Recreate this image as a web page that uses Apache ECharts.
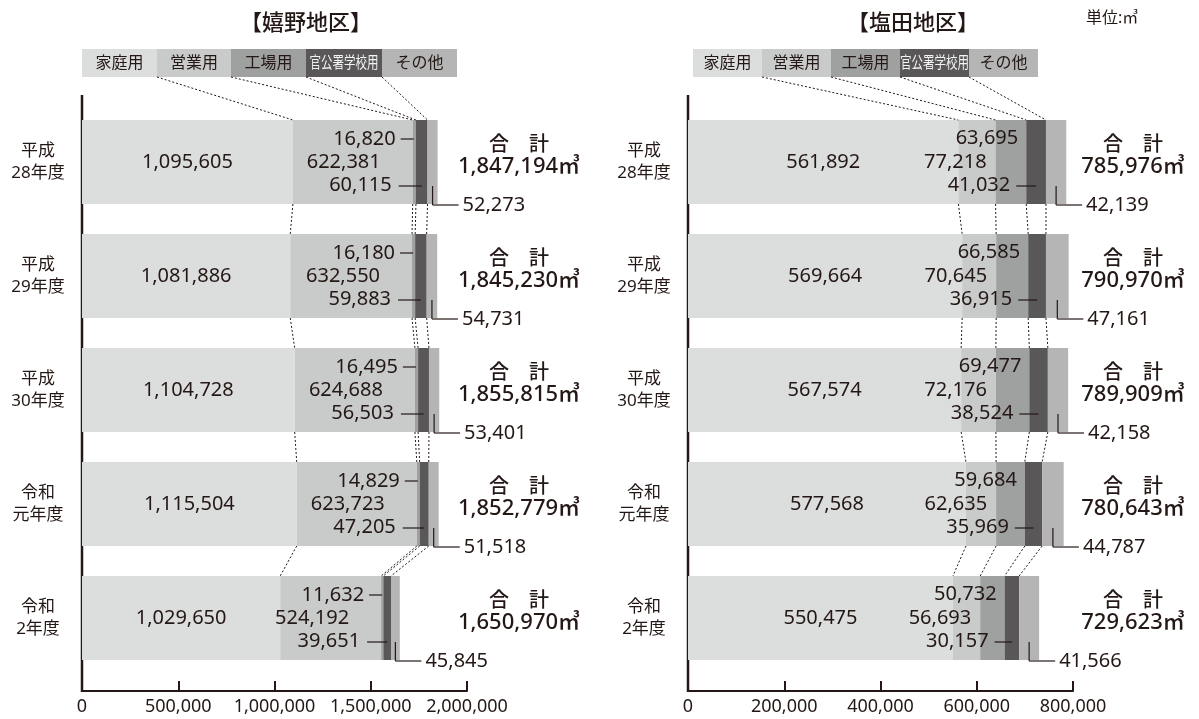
<!DOCTYPE html>
<html><head><meta charset="utf-8">
<script src="https://cdn.jsdelivr.net/npm/echarts@6/dist/echarts.min.js"></script>
<style>html,body{margin:0;padding:0;background:#fff}#c{width:1199px;height:719px}</style>
</head><body><div id="c"></div>
<script>
// ---- data ----
const categories = ['平成28年度', '平成29年度', '平成30年度', '令和元年度', '令和2年度'];
const seriesNames = ['家庭用', '営業用', '工場用', '官公署学校用', 'その他'];

const ureshinoHome    = [1095605, 1081886, 1104728, 1115504, 1029650];
const ureshinoBiz     = [622381, 632550, 624688, 623723, 524192];
const ureshinoFactory = [16820, 16180, 16495, 14829, 11632];
const ureshinoPublic  = [60115, 59883, 56503, 47205, 39651];
const ureshinoOther   = [52273, 54731, 53401, 51518, 45845];
const ureshinoTotal   = [1847194, 1845230, 1855815, 1852779, 1650970];

const shiotaHome    = [561892, 569664, 567574, 577568, 550475];
const shiotaBiz     = [77218, 70645, 72176, 62635, 56693];
const shiotaFactory = [63695, 66585, 69477, 59684, 50732];
const shiotaPublic  = [41032, 36915, 38524, 35969, 30157];
const shiotaOther   = [42139, 47161, 42158, 44787, 41566];
const shiotaTotal   = [785976, 790970, 789909, 780643, 729623];

const ureshinoTicks = [0, 500000, 1000000, 1500000, 2000000];
const shiotaTicks   = [0, 200000, 400000, 600000, 800000];

// ---- style / layout ----
const FONT = "'Noto Sans', 'Noto Sans CJK JP', sans-serif";
const INK = '#231815';
const colors = ['#dcdddd', '#c9caca', '#9fa0a0', '#595757', '#b5b5b6'];
const fmt = v => Number(v).toLocaleString('en-US');
const GRID_TOP = 105, GRID_H = 570, GRID_W = 385, BAR_W = 84;
const LEGEND_TOP = 49, LEGEND_H = 28;

const panels = [
  { key: 'L', title: '【嬉野地区】', titleX: 306, gridLeft: 82, ticks: ureshinoTicks,
    values: [ureshinoHome, ureshinoBiz, ureshinoFactory, ureshinoPublic, ureshinoOther],
    totals: ureshinoTotal, legendX: [82, 157, 231, 306, 382, 457], totalDX: 52, mode: 'L' },
  { key: 'R', title: '【塩田地区】', titleX: 913, gridLeft: 688, ticks: shiotaTicks,
    values: [shiotaHome, shiotaBiz, shiotaFactory, shiotaPublic, shiotaOther],
    totals: shiotaTotal, legendX: [693, 762, 831, 900, 969, 1038], totalDX: 60, mode: 'R' }
];

function txt(x, y, text, align, size, weight) {
  return { type: 'text', x: x, y: y, style: { text: text, fill: INK, fontSize: size || 20,
    fontFamily: FONT, fontWeight: weight || 'normal', align: align || 'left', verticalAlign: 'middle',
    textAlign: align || 'left', textVerticalAlign: 'middle' } };
}
function seg(x1, y1, x2, y2, dash) {
  return { type: 'line', shape: { x1: x1, y1: y1, x2: x2, y2: y2 },
    style: { stroke: INK, lineWidth: dash ? 1 : 1.2, lineDash: dash ? [2, 2] : null } };
}

function makeRender(p) {
  const cumAt = j => { let s = 0; const out = []; for (let k = 0; k < 5; k++) { s += p.values[k][j]; out.push(s); } return out; };
  return function (params, api) {
    const i = params.dataIndex;
    const b = cumAt(i).map(v => api.coord([v, i])[0]);
    const yc = api.coord([0, i])[1];
    const half = BAR_W / 2;
    const ch = [];
    const v = k => fmt(p.values[k][i]);
    if (p.mode === 'L') {
      ch.push(txt(b[1] - 17, yc - 23, v(2), 'right'));
      ch.push(seg(b[1] - 12, yc - 23, b[1] + 1, yc - 23));
      ch.push(txt(b[1] - 32, yc, v(1), 'right'));
      ch.push(txt(b[1] - 21, yc + 23, v(3), 'right'));
      ch.push(seg(b[1] - 14, yc + 24, (b[2] + b[3]) / 2, yc + 24));
    } else {
      ch.push(txt(b[2] - 8, yc - 24, v(2), 'right'));
      ch.push(txt(b[1] - 9, yc, v(1), 'right'));
      ch.push(txt(b[2] - 16, yc + 23, v(3), 'right'));
      ch.push(seg(b[2] - 10, yc + 24, (b[2] + b[3]) / 2, yc + 24));
    }
    const vx = (b[3] + b[4]) / 2;
    ch.push(seg(vx, yc + 24, vx, yc + 43));
    ch.push(seg(vx, yc + 43, vx + 26, yc + 43));
    ch.push(txt(vx + 30, yc + 43, v(4), 'left'));
    // totals
    const tx = params.coordSys.x + params.coordSys.width + p.totalDX;
    ch.push(txt(tx, yc - 17, '合　計', 'center', 20, 500));
    ch.push(txt(tx, yc + 5, fmt(p.totals[i]) + '㎥', 'center', 22, 500));
    // connectors
    if (i < categories.length - 1) {
      const bn = cumAt(i + 1).map(val => api.coord([val, i + 1])[0]);
      const ycn = api.coord([0, i + 1])[1];
      for (let k = 0; k < 4; k++) ch.push(seg(b[k], yc + half, bn[k], ycn - half, true));
    }
    if (i === 0) {
      for (let k = 0; k < 4; k++) ch.push(seg(p.legendX[k + 1], LEGEND_TOP + LEGEND_H, b[k], yc - half, true));
    }
    return { type: 'group', children: ch };
  };
}

const grid = [], xAxis = [], yAxis = [], series = [], graphic = [];
panels.forEach((p, gi) => {
  grid.push({ left: p.gridLeft, top: GRID_TOP, width: GRID_W, height: GRID_H });
  const t = p.ticks;
  xAxis.push({ gridIndex: gi, type: 'value', min: t[0], max: t[t.length - 1], interval: t[1] - t[0], offset: 16,
    axisLine: { show: true, lineStyle: { color: INK, width: 2 } },
    axisTick: { show: true, inside: true, length: 10, lineStyle: { color: INK, width: 2 } },
    axisLabel: { fontSize: 18, color: INK, fontFamily: FONT, margin: 7, formatter: fmt },
    splitLine: { show: false } });
  yAxis.push({ gridIndex: gi, type: 'category', inverse: true, data: categories,
    axisLine: { show: false }, axisTick: { show: false },
    axisLabel: { color: INK, fontSize: 17, fontFamily: FONT, lineHeight: 22, align: 'center', margin: 44,
      padding: [0, 0, 18, 0], formatter: c => c.slice(0, 2) + '\n' + c.slice(2) } });
  p.values.forEach((vals, k) => {
    series.push({ type: 'bar', name: seriesNames[k], xAxisIndex: gi, yAxisIndex: gi, stack: p.key,
      barWidth: BAR_W, data: vals, silent: true, itemStyle: { color: colors[k] },
      label: k === 0 ? { show: true, position: 'inside', fontSize: 20, color: INK, fontFamily: FONT,
        formatter: d => fmt(d.value) } : { show: false } });
  });
  series.push({ type: 'custom', xAxisIndex: gi, yAxisIndex: gi, z: 10, silent: true,
    data: p.totals.map((tot, i) => [tot, i]), renderItem: makeRender(p) });
  // legend band
  for (let k = 0; k < 5; k++) {
    const x0 = p.legendX[k], x1 = p.legendX[k + 1];
    graphic.push({ type: 'rect', shape: { x: x0, y: LEGEND_TOP, width: x1 - x0, height: LEGEND_H }, style: { fill: colors[k] } });
    graphic.push({ type: 'text', x: (x0 + x1) / 2, y: LEGEND_TOP + LEGEND_H / 2, scaleX: k === 3 ? 0.72 : 1,
      style: { text: seriesNames[k], fill: k === 3 ? '#f4f4f4' : INK, fontSize: 16, fontFamily: FONT,
        align: 'center', verticalAlign: 'middle', textAlign: 'center', textVerticalAlign: 'middle' } });
  }
  graphic.push({ type: 'text', x: p.titleX, y: 24, style: { text: p.title, fill: INK, fontSize: 22, fontWeight: 500,
    fontFamily: FONT, align: 'center', verticalAlign: 'middle', textAlign: 'center', textVerticalAlign: 'middle' } });
  graphic.push({ type: 'line', shape: { x1: p.gridLeft, y1: 95, x2: p.gridLeft, y2: GRID_TOP + GRID_H + 17 },
    style: { stroke: INK, lineWidth: 2.5 } });
});
graphic.push({ type: 'text', x: 1086, y: 18, style: { text: '単位:㎥', fill: INK, fontSize: 16, fontFamily: FONT,
  align: 'left', verticalAlign: 'middle', textAlign: 'left', textVerticalAlign: 'middle' } });

const chart = echarts.init(document.getElementById('c'), null, { renderer: 'canvas' });
chart.setOption({ animation: false, backgroundColor: '#fff', grid, xAxis, yAxis, series, graphic });
</script></body></html>
